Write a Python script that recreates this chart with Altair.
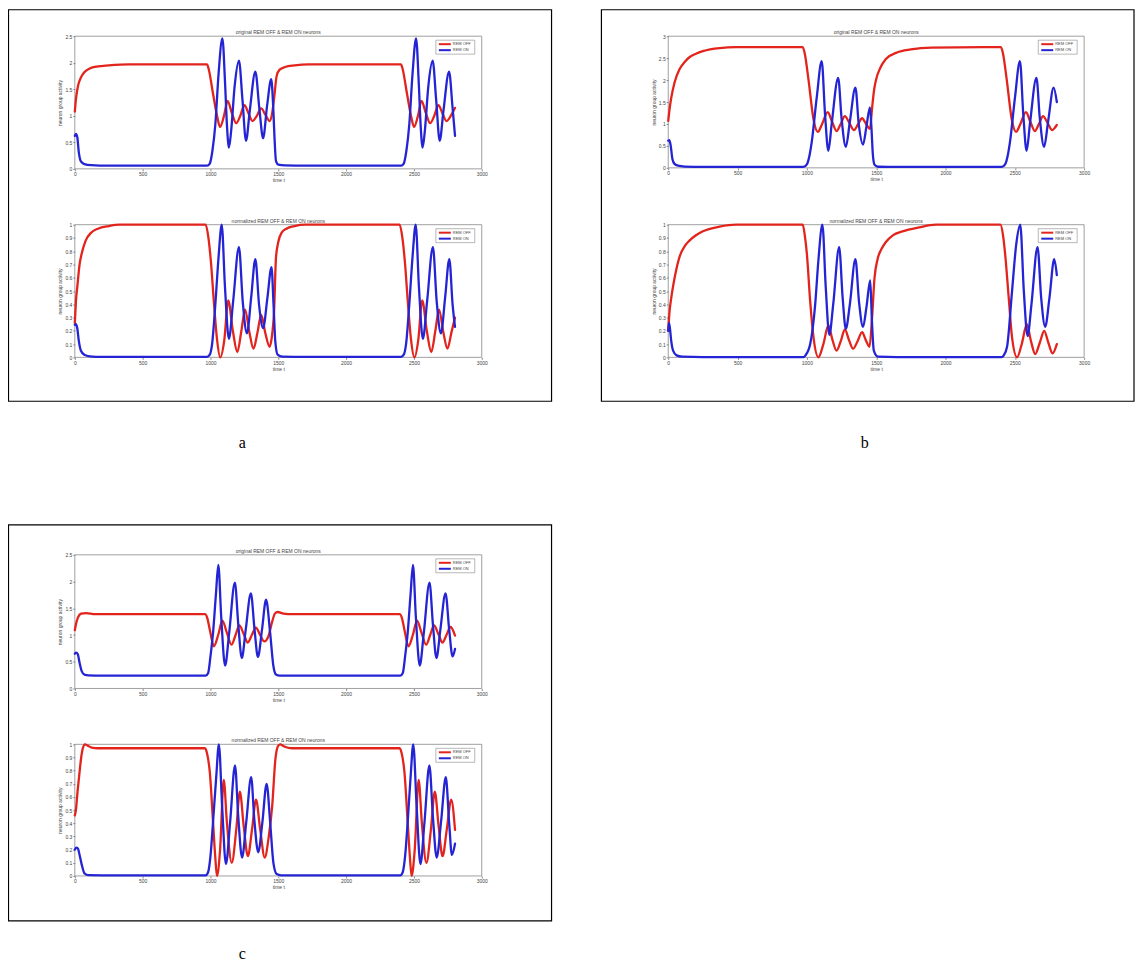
import altair as alt
import pandas as pd

# ---------------- data ----------------
# panel a, original
A1_OFF_T = [0, 10, 25, 45, 70, 110, 170, 250, 400, 975, 985, 1020, 1050, 1071, 1100, 1126, 1158, 1190, 1220, 1250, 1280, 1310, 1342, 1374, 1405, 1436, 1455, 1470, 1488, 1510, 1550, 1620, 1720, 2405, 2415, 2450, 2480, 2501, 2530, 2556, 2588, 2620, 2650, 2680, 2710, 2740, 2772, 2803]
A1_OFF_V = [1.08, 1.35, 1.58, 1.72, 1.82, 1.89, 1.93, 1.95, 1.97, 1.97, 1.9, 1.4, 0.98, 0.79, 1.0, 1.28, 1.05, 0.86, 1.0, 1.2, 1.05, 0.9, 1.0, 1.14, 1.02, 0.9, 1.05, 1.35, 1.75, 1.87, 1.92, 1.95, 1.97, 1.97, 1.9, 1.4, 0.98, 0.79, 1.0, 1.28, 1.05, 0.86, 1.0, 1.2, 1.05, 0.9, 1.0, 1.15]
A1_ON_T = [0, 8, 18, 30, 45, 70, 120, 250, 975, 995, 1015, 1036, 1060, 1088, 1108, 1122, 1136, 1152, 1178, 1210, 1236, 1262, 1290, 1331, 1360, 1388, 1418, 1448, 1462, 1472, 1483, 1500, 1550, 1700, 2405, 2425, 2445, 2466, 2490, 2516, 2536, 2550, 2564, 2580, 2606, 2638, 2664, 2690, 2718, 2759, 2785, 2803]
A1_ON_V = [0.62, 0.66, 0.6, 0.3, 0.14, 0.09, 0.07, 0.06, 0.06, 0.1, 0.35, 0.84, 1.8, 2.46, 1.6, 0.8, 0.4, 0.7, 1.55, 2.04, 1.3, 0.53, 1.1, 1.83, 1.15, 0.58, 1.2, 1.69, 1.2, 0.6, 0.15, 0.08, 0.065, 0.06, 0.06, 0.1, 0.35, 0.84, 1.8, 2.46, 1.6, 0.8, 0.4, 0.7, 1.55, 2.04, 1.3, 0.53, 1.1, 1.83, 1.15, 0.62]

# panel a, normalized
A2_OFF_T = [0, 8, 20, 35, 50, 80, 120, 170, 250, 330, 965, 985, 1005, 1025, 1048, 1072, 1102, 1131, 1165, 1198, 1228, 1255, 1287, 1317, 1347, 1374, 1405, 1436, 1452, 1469, 1483, 1500, 1525, 1560, 1620, 1700, 2395, 2415, 2435, 2455, 2478, 2504, 2532, 2561, 2595, 2628, 2658, 2685, 2717, 2747, 2777, 2803]
A2_OFF_V = [0.26, 0.42, 0.55, 0.7, 0.78, 0.88, 0.94, 0.97, 0.99, 1.0, 1.0, 0.9, 0.7, 0.42, 0.14, 0.0, 0.13, 0.43, 0.2, 0.04, 0.2, 0.36, 0.19, 0.065, 0.19, 0.32, 0.18, 0.08, 0.15, 0.35, 0.75, 0.87, 0.94, 0.97, 0.99, 1.0, 1.0, 0.9, 0.7, 0.42, 0.14, 0.0, 0.13, 0.43, 0.2, 0.04, 0.2, 0.36, 0.19, 0.065, 0.19, 0.3]
A2_ON_T = [0, 8, 18, 30, 45, 70, 110, 200, 975, 995, 1012, 1036, 1060, 1083, 1107, 1136, 1167, 1210, 1238, 1269, 1300, 1331, 1358, 1388, 1420, 1450, 1465, 1478, 1495, 1530, 1700, 2405, 2425, 2442, 2466, 2490, 2513, 2537, 2566, 2597, 2640, 2668, 2699, 2730, 2761, 2785, 2803]
A2_ON_V = [0.245, 0.25, 0.22, 0.12, 0.05, 0.02, 0.008, 0.003, 0.003, 0.02, 0.1, 0.4, 0.76, 1.0, 0.53, 0.14, 0.42, 0.83, 0.42, 0.18, 0.45, 0.74, 0.4, 0.22, 0.45, 0.68, 0.4, 0.12, 0.02, 0.005, 0.003, 0.003, 0.02, 0.1, 0.4, 0.76, 1.0, 0.53, 0.14, 0.42, 0.83, 0.42, 0.18, 0.45, 0.74, 0.4, 0.23]

# panel b, original
B1_OFF_T = [0, 10, 22, 46, 82, 120, 153, 200, 250, 370, 490, 970, 985, 1012, 1048, 1079, 1110, 1150, 1182, 1214, 1244, 1274, 1307, 1340, 1370, 1398, 1427, 1455, 1470, 1485, 1500, 1530, 1570, 1650, 1750, 1900, 2400, 2415, 2442, 2478, 2509, 2540, 2580, 2612, 2644, 2674, 2704, 2737, 2770, 2790, 2803]
B1_OFF_V = [1.07, 1.35, 1.6, 1.95, 2.25, 2.42, 2.52, 2.6, 2.66, 2.73, 2.75, 2.75, 2.6, 2.0, 1.1, 0.82, 1.0, 1.27, 1.05, 0.84, 1.0, 1.18, 1.02, 0.86, 1.0, 1.13, 1.0, 0.89, 1.35, 1.78, 2.02, 2.28, 2.48, 2.63, 2.7, 2.74, 2.75, 2.6, 2.0, 1.1, 0.82, 1.0, 1.27, 1.05, 0.84, 1.0, 1.18, 1.02, 0.86, 0.92, 0.98]
B1_ON_T = [0, 8, 18, 30, 45, 70, 120, 250, 975, 1000, 1020, 1036, 1071, 1107, 1131, 1155, 1179, 1226, 1250, 1281, 1310, 1350, 1374, 1405, 1430, 1455, 1466, 1476, 1488, 1515, 1650, 2405, 2430, 2450, 2466, 2501, 2537, 2561, 2585, 2609, 2656, 2680, 2711, 2740, 2780, 2803]
B1_ON_V = [0.62, 0.63, 0.5, 0.2, 0.09, 0.05, 0.03, 0.02, 0.02, 0.08, 0.3, 0.61, 1.6, 2.43, 1.22, 0.39, 1.0, 2.05, 1.14, 0.48, 1.05, 1.83, 1.0, 0.53, 0.95, 1.38, 0.9, 0.3, 0.07, 0.025, 0.02, 0.02, 0.08, 0.3, 0.61, 1.6, 2.43, 1.22, 0.39, 1.0, 2.05, 1.14, 0.48, 1.05, 1.83, 1.5]

# panel b, normalized
B2_OFF_T = [0, 8, 22, 46, 82, 120, 153, 200, 250, 370, 490, 970, 985, 1000, 1024, 1048, 1083, 1119, 1155, 1185, 1214, 1244, 1274, 1304, 1333, 1365, 1398, 1425, 1452, 1469, 1488, 1510, 1540, 1570, 1620, 1690, 1810, 1930, 2396, 2415, 2430, 2456, 2480, 2516, 2550, 2587, 2617, 2647, 2680, 2712, 2742, 2772, 2803]
B2_OFF_V = [0.2, 0.33, 0.45, 0.6, 0.76, 0.84, 0.88, 0.92, 0.95, 0.985, 1.0, 1.0, 0.92, 0.78, 0.42, 0.15, 0.0, 0.1, 0.24, 0.13, 0.05, 0.12, 0.21, 0.13, 0.065, 0.12, 0.19, 0.13, 0.08, 0.28, 0.6, 0.74, 0.82, 0.87, 0.92, 0.95, 0.98, 1.0, 1.0, 0.92, 0.78, 0.45, 0.15, 0.0, 0.1, 0.25, 0.12, 0.025, 0.11, 0.2, 0.11, 0.03, 0.1]
B2_ON_T = [0, 5, 12, 22, 35, 60, 100, 250, 975, 990, 1024, 1060, 1083, 1112, 1136, 1162, 1190, 1233, 1258, 1281, 1310, 1350, 1376, 1405, 1430, 1457, 1469, 1483, 1512, 1650, 2405, 2420, 2444, 2480, 2510, 2539, 2565, 2592, 2620, 2664, 2690, 2719, 2750, 2784, 2803]
B2_ON_V = [0.2, 0.26, 0.22, 0.12, 0.05, 0.015, 0.005, 0.002, 0.002, 0.015, 0.1, 0.4, 0.73, 1.0, 0.53, 0.17, 0.4, 0.83, 0.45, 0.215, 0.4, 0.74, 0.42, 0.23, 0.38, 0.58, 0.28, 0.05, 0.005, 0.002, 0.002, 0.015, 0.08, 0.5, 0.85, 1.0, 0.5, 0.16, 0.4, 0.83, 0.45, 0.23, 0.45, 0.74, 0.62]

# panel c, original
C1_OFF_T = [0, 10, 22, 47, 83, 150, 960, 975, 995, 1025, 1057, 1088, 1120, 1155, 1185, 1213, 1245, 1275, 1305, 1335, 1366, 1397, 1430, 1455, 1475, 1495, 1540, 1600, 2395, 2410, 2430, 2460, 2492, 2523, 2555, 2590, 2620, 2648, 2680, 2710, 2740, 2770, 2803]
C1_OFF_V = [1.09, 1.22, 1.32, 1.4, 1.41, 1.39, 1.39, 1.33, 1.1, 0.79, 1.0, 1.27, 1.05, 0.82, 1.0, 1.18, 1.02, 0.86, 1.0, 1.14, 1.0, 0.88, 1.0, 1.25, 1.4, 1.43, 1.4, 1.39, 1.39, 1.33, 1.1, 0.79, 1.0, 1.27, 1.05, 0.82, 1.0, 1.18, 1.02, 0.86, 1.0, 1.15, 0.99]
C1_ON_T = [0, 10, 22, 35, 50, 71, 100, 200, 965, 983, 1000, 1019, 1040, 1058, 1079, 1108, 1138, 1180, 1205, 1231, 1260, 1298, 1325, 1350, 1380, 1410, 1440, 1464, 1483, 1510, 1600, 2400, 2418, 2435, 2454, 2475, 2493, 2514, 2543, 2573, 2615, 2640, 2666, 2695, 2733, 2760, 2785, 2803]
C1_ON_V = [0.65, 0.67, 0.64, 0.48, 0.33, 0.26, 0.245, 0.24, 0.24, 0.29, 0.6, 1.04, 1.75, 2.31, 1.35, 0.43, 1.04, 1.98, 1.2, 0.57, 1.1, 1.78, 1.1, 0.59, 1.1, 1.66, 1.04, 0.42, 0.26, 0.24, 0.24, 0.24, 0.29, 0.6, 1.04, 1.75, 2.31, 1.35, 0.43, 1.04, 1.98, 1.2, 0.57, 1.1, 1.78, 1.1, 0.6, 0.74]

# panel c, normalized
C2_OFF_T = [0, 8, 20, 34, 47, 59, 75, 95, 125, 170, 960, 975, 995, 1019, 1035, 1048, 1071, 1098, 1121, 1157, 1190, 1217, 1245, 1276, 1306, 1336, 1367, 1400, 1430, 1455, 1479, 1500, 1515, 1540, 1600, 2395, 2410, 2430, 2454, 2470, 2483, 2506, 2535, 2558, 2592, 2625, 2654, 2682, 2711, 2742, 2775, 2803]
C2_OFF_V = [0.46, 0.5, 0.64, 0.78, 0.9, 0.97, 1.0, 0.99, 0.975, 0.97, 0.97, 0.93, 0.79, 0.41, 0.15, 0.0, 0.2, 0.73, 0.41, 0.1, 0.35, 0.64, 0.38, 0.15, 0.35, 0.58, 0.35, 0.14, 0.3, 0.53, 0.89, 0.99, 1.0, 0.985, 0.97, 0.97, 0.93, 0.79, 0.41, 0.15, 0.0, 0.2, 0.73, 0.41, 0.1, 0.35, 0.64, 0.38, 0.15, 0.35, 0.58, 0.35]
C2_ON_T = [0, 10, 22, 35, 50, 71, 100, 200, 965, 983, 1000, 1019, 1043, 1062, 1086, 1114, 1145, 1181, 1205, 1233, 1264, 1300, 1324, 1352, 1383, 1414, 1440, 1464, 1488, 1520, 1600, 2400, 2418, 2435, 2454, 2476, 2495, 2520, 2548, 2578, 2614, 2640, 2668, 2700, 2735, 2760, 2780, 2803]
C2_ON_V = [0.2, 0.215, 0.21, 0.16, 0.09, 0.02, 0.006, 0.005, 0.005, 0.03, 0.15, 0.41, 0.76, 1.0, 0.53, 0.09, 0.41, 0.84, 0.45, 0.14, 0.41, 0.75, 0.42, 0.18, 0.41, 0.7, 0.41, 0.1, 0.015, 0.005, 0.005, 0.005, 0.03, 0.15, 0.41, 0.76, 1.0, 0.53, 0.09, 0.41, 0.84, 0.45, 0.14, 0.41, 0.75, 0.4, 0.16, 0.245]

SERIES = ["REM OFF", "REM ON"]
X_TICKS = [0, 500, 1000, 1500, 2000, 2500, 3000]
Y_TICKS_25 = [0, 0.5, 1, 1.5, 2, 2.5]
Y_TICKS_3 = [0, 0.5, 1, 1.5, 2, 2.5, 3]
Y_TICKS_1 = [0, 0.1, 0.2, 0.3, 0.4, 0.5, 0.6, 0.7, 0.8, 0.9, 1]
TITLE_ORIG = "original REM OFF & REM ON neurons"
TITLE_NORM = "normalized REM OFF & REM ON neurons"
PANEL_LABELS = ["a", "b", "c"]

# ---------------- styling / layout ----------------
RED = "#e3241c"
BLUE = "#2424d4"
W, H = 1130, 960
FONT = "Liberation Sans"
TXT = "#444444"
one = pd.DataFrame({"k": [0]})


def rect(x0, y0, x1, y1, stroke, sw, fill=None):
    if fill is None:
        m = alt.Chart(one).mark_rect(filled=False, stroke=stroke, strokeWidth=sw)
    else:
        m = alt.Chart(one).mark_rect(fill=fill, stroke=stroke, strokeWidth=sw)
    return m.encode(x=alt.value(x0), x2=alt.value(x1), y=alt.value(y0), y2=alt.value(y1))


def text(s, x, y, size, font=FONT, color=TXT, align="center", baseline="middle"):
    return alt.Chart(one).mark_text(text=s, fontSize=size, font=font, color=color,
                                    align=align, baseline=baseline).encode(
        x=alt.value(x), y=alt.value(y))


def rule(x0, x1, y, color):
    return alt.Chart(one).mark_rule(color=color, strokeWidth=2).encode(
        x=alt.value(x0), x2=alt.value(x1), y=alt.value(y))


def subplot(t_off, v_off, t_on, v_on, box, ymax, yticks, title):
    x0, y0, x1, y1 = box
    df = pd.concat([
        pd.DataFrame({"t": t_off, "v": v_off, "s": SERIES[0]}),
        pd.DataFrame({"t": t_on, "v": v_on, "s": SERIES[1]}),
    ], ignore_index=True)
    lines = alt.Chart(df).mark_line(interpolate="monotone", strokeWidth=2.3,
                                    strokeJoin="round", strokeCap="round").encode(
        x=alt.X("t:Q",
                scale=alt.Scale(domain=[0, 3000], range=[x0, x1], nice=False, zero=False),
                axis=alt.Axis(orient="bottom", offset=y1 - H, values=X_TICKS, format="d",
                              labelFont=FONT, labelFontSize=5, labelColor=TXT, labelFlush=False,
                              labelPadding=1, tickSize=2, tickColor="#888", domain=False, grid=False,
                              title="time t", titleFont=FONT, titleFontSize=5,
                              titleFontWeight="normal", titleColor=TXT, titlePadding=1)),
        y=alt.Y("v:Q",
                scale=alt.Scale(domain=[0, ymax], range=[y1, y0], nice=False, zero=False),
                axis=alt.Axis(orient="left", offset=-x0, values=yticks, format="~g",
                              labelFont=FONT, labelFontSize=5, labelColor=TXT, labelFlush=False,
                              labelPadding=1, tickSize=2, tickColor="#888", domain=False, grid=False,
                              title="neuron group activity", titleFont=FONT, titleFontSize=5,
                              titleFontWeight="normal", titleColor=TXT, titlePadding=2)),
        color=alt.Color("s:N", scale=alt.Scale(domain=SERIES, range=[RED, BLUE]), legend=None),
    )
    lx, ly = x1 - 46, y0 + 4
    parts = [
        rect(x0, y0, x1, y1, "#888888", 0.8),
        lines,
        text(title, (x0 + x1) / 2, y0 - 4, 5),
        rect(lx, ly, lx + 39, ly + 14, "#888888", 0.6, fill="white"),
        rule(lx + 3, lx + 15, ly + 4, RED),
        rule(lx + 3, lx + 15, ly + 10, BLUE),
        text(SERIES[0], lx + 17, ly + 4, 4, align="left"),
        text(SERIES[1], lx + 17, ly + 10, 4, align="left"),
    ]
    return parts


layers = []
# panel boxes and labels
layers += [rect(0.5, 0.5, 545, 393, "#000000", 1.2),
           rect(595, 0.5, 1129, 393, "#000000", 1.2),
           rect(0.5, 517, 545, 914, "#000000", 1.2)]
layers += subplot(A1_OFF_T, A1_OFF_V, A1_ON_T, A1_ON_V, (67, 27, 475, 160), 2.5, Y_TICKS_25, TITLE_ORIG)
layers += subplot(A2_OFF_T, A2_OFF_V, A2_ON_T, A2_ON_V, (67, 216, 475, 349), 1, Y_TICKS_1, TITLE_NORM)
layers += subplot(B1_OFF_T, B1_OFF_V, B1_ON_T, B1_ON_V, (662, 27, 1079, 159), 3, Y_TICKS_3, TITLE_ORIG)
layers += subplot(B2_OFF_T, B2_OFF_V, B2_ON_T, B2_ON_V, (662, 216, 1079, 349), 1, Y_TICKS_1, TITLE_NORM)
layers += subplot(C1_OFF_T, C1_OFF_V, C1_ON_T, C1_ON_V, (67, 547, 475, 681), 2.5, Y_TICKS_25, TITLE_ORIG)
layers += subplot(C2_OFF_T, C2_OFF_V, C2_ON_T, C2_ON_V, (67, 737, 475, 869), 1, Y_TICKS_1, TITLE_NORM)
layers += [text(PANEL_LABELS[0], 235, 435, 16, font="Liberation Serif", color="#000000"),
           text(PANEL_LABELS[1], 859, 435, 16, font="Liberation Serif", color="#000000"),
           text(PANEL_LABELS[2], 235, 947, 16, font="Liberation Serif", color="#000000")]

chart = alt.layer(*layers).resolve_scale(
    x="independent", y="independent", color="independent"
).properties(
    width=W, height=H, autosize=alt.AutoSizeParams(type="none"), padding=0
).configure_view(stroke=None)

chart.save("out.html", embed_options={"renderer": "svg", "actions": False})
